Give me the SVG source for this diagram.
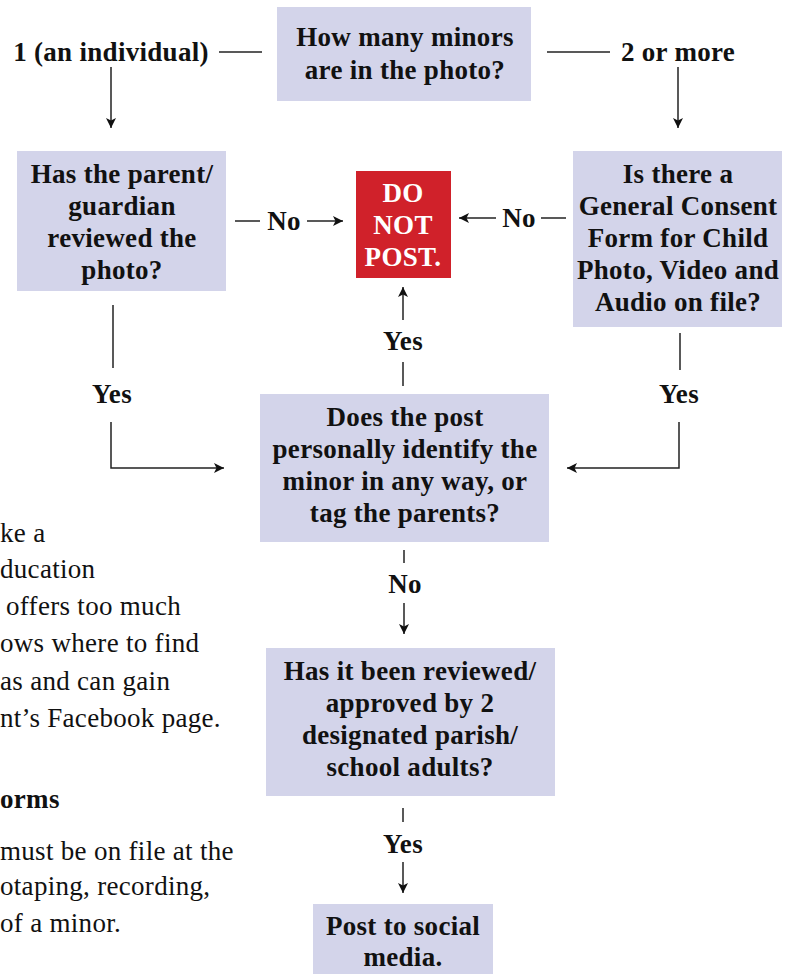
<svg xmlns="http://www.w3.org/2000/svg" width="786" height="974" viewBox="0 0 786 974">
<style>
.box{fill:#d3d4ea}
.t{font-family:"Liberation Serif",serif;font-weight:bold;font-size:27px;letter-spacing:0.3px;fill:#111;text-anchor:middle}
.w{fill:#fff}
.lb{font-family:"Liberation Serif",serif;font-weight:bold;font-size:27px;letter-spacing:0.3px;fill:#111;text-anchor:middle}
.body{font-family:"Liberation Serif",serif;font-size:27px;letter-spacing:0.3px;fill:#111}
.ln{stroke:#222;stroke-width:1.5;fill:none}
</style>
<defs>
<marker id="ah" viewBox="0 0 10 10" refX="10" refY="5" markerWidth="10" markerHeight="10" markerUnits="userSpaceOnUse" orient="auto">
<path d="M0,0 L10,5 L0,10 L2.5,5 Z" fill="#111"/>
</marker>
</defs>
<rect width="786" height="974" fill="#fff"/>
<g id="sidetext">
<text class="body" x="0" y="542">ke a</text>
<text class="body" x="0" y="578">ducation</text>
<text class="body" x="6" y="615">offers too much</text>
<text class="body" x="0" y="652">ows where to find</text>
<text class="body" x="0" y="690">as and can gain</text>
<text class="body" x="0" y="727">nt’s Facebook page.</text>
<text class="body" x="0" y="808" font-weight="bold">orms</text>
<text class="body" x="0" y="860">must be on file at the</text>
<text class="body" x="0" y="895">otaping, recording,</text>
<text class="body" x="0" y="932">of a minor.</text>
</g>
<g id="n_top">
<rect class="box" x="277" y="7" width="254" height="94"/>
<text class="t" x="405" y="46">How many minors</text>
<text class="t" x="405" y="79">are in the photo?</text>
</g>
<g id="n_left">
<rect class="box" x="17" y="151" width="209" height="140"/>
<text class="t" x="122" y="183">Has the parent/</text>
<text class="t" x="122" y="215">guardian</text>
<text class="t" x="122" y="247">reviewed the</text>
<text class="t" x="122" y="279">photo?</text>
</g>
<g id="n_stop">
<rect x="356" y="171" width="95" height="107" fill="#d0212a"/>
<text class="t w" x="403" y="202">DO</text>
<text class="t w" x="403" y="234">NOT</text>
<text class="t w" x="403" y="266">POST.</text>
</g>
<g id="n_right">
<rect class="box" x="573" y="151" width="209" height="176"/>
<text class="t" x="678" y="183">Is there a</text>
<text class="t" x="678" y="215">General Consent</text>
<text class="t" x="678" y="247">Form for Child</text>
<text class="t" x="678" y="279">Photo, Video and</text>
<text class="t" x="678" y="311">Audio on file?</text>
</g>
<g id="n_mid">
<rect class="box" x="260" y="394" width="289" height="148"/>
<text class="t" x="405" y="426">Does the post</text>
<text class="t" x="405" y="458">personally identify the</text>
<text class="t" x="405" y="490">minor in any way, or</text>
<text class="t" x="405" y="522">tag the parents?</text>
</g>
<g id="n_review">
<rect class="box" x="266" y="648" width="289" height="148"/>
<text class="t" x="410" y="680">Has it been reviewed/</text>
<text class="t" x="410" y="712">approved by 2</text>
<text class="t" x="410" y="744">designated parish/</text>
<text class="t" x="410" y="776">school adults?</text>
</g>
<g id="n_post">
<rect class="box" x="313" y="904" width="180" height="70"/>
<text class="t" x="403" y="935">Post to social</text>
<text class="t" x="403" y="966">media.</text>
</g>
<g id="connectors">
<text class="lb" x="111" y="61">1 (an individual)</text>
<line class="ln" x1="219" y1="52" x2="262" y2="52"/>
<text class="lb" x="678" y="61">2 or more</text>
<line class="ln" x1="547" y1="52" x2="610" y2="52"/>
<line class="ln" x1="111" y1="67" x2="111" y2="128" marker-end="url(#ah)"/>
<line class="ln" x1="678" y1="67" x2="678" y2="128" marker-end="url(#ah)"/>
<line class="ln" x1="235" y1="221" x2="260" y2="221"/>
<text class="lb" x="284" y="230">No</text>
<line class="ln" x1="307" y1="221" x2="343" y2="221" marker-end="url(#ah)"/>
<line class="ln" x1="496" y1="218" x2="459" y2="218" marker-end="url(#ah)"/>
<text class="lb" x="519" y="227">No</text>
<line class="ln" x1="541" y1="218" x2="566" y2="218"/>
<line class="ln" x1="403" y1="320" x2="403" y2="287" marker-end="url(#ah)"/>
<text class="lb" x="403" y="350">Yes</text>
<line class="ln" x1="403" y1="362" x2="403" y2="386"/>
<line class="ln" x1="113" y1="305" x2="113" y2="368"/>
<text class="lb" x="112" y="403">Yes</text>
<polyline class="ln" points="111,422 111,468 224,468" marker-end="url(#ah)"/>
<line class="ln" x1="680" y1="333" x2="680" y2="370"/>
<text class="lb" x="679" y="403">Yes</text>
<polyline class="ln" points="679,422 679,468 567,468" marker-end="url(#ah)"/>
<line class="ln" x1="404" y1="550" x2="404" y2="563"/>
<text class="lb" x="405" y="593">No</text>
<line class="ln" x1="404" y1="603" x2="404" y2="634" marker-end="url(#ah)"/>
<line class="ln" x1="403" y1="808" x2="403" y2="822"/>
<text class="lb" x="403" y="853">Yes</text>
<line class="ln" x1="403" y1="862" x2="403" y2="893" marker-end="url(#ah)"/>
</g>
</svg>
